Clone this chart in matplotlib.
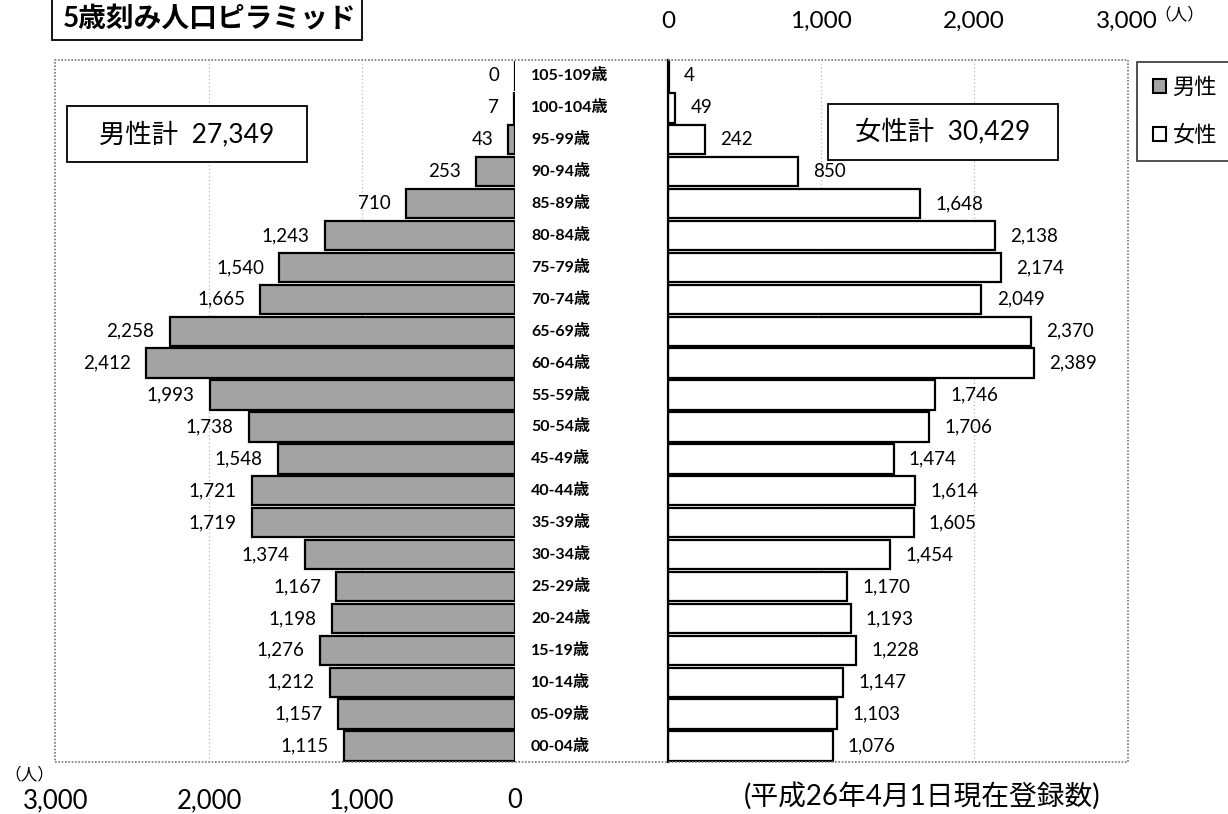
import matplotlib
matplotlib.use("Agg")
import matplotlib.pyplot as plt
from matplotlib.patches import Rectangle, Patch
from matplotlib.ticker import FuncFormatter, FixedLocator
import matplotlib.transforms as mtransforms
import numpy as np

plt.rcParams['font.family'] = ['Lato', 'Noto Sans CJK JP', 'DejaVu Sans']

# Age groups from youngest (bottom) to oldest (top)
age_groups = ["00-04歳", "05-09歳", "10-14歳", "15-19歳", "20-24歳", "25-29歳",
              "30-34歳", "35-39歳", "40-44歳", "45-49歳", "50-54歳", "55-59歳",
              "60-64歳", "65-69歳", "70-74歳", "75-79歳", "80-84歳", "85-89歳",
              "90-94歳", "95-99歳", "100-104歳", "105-109歳"]
male = [1115, 1157, 1212, 1276, 1198, 1167, 1374, 1719, 1721, 1548, 1738, 1993,
        2412, 2258, 1665, 1540, 1243, 710, 253, 43, 7, 0]
female = [1076, 1103, 1147, 1228, 1193, 1170, 1454, 1605, 1614, 1474, 1706, 1746,
          2389, 2370, 2049, 2174, 2138, 1648, 850, 242, 49, 4]
male_total = 27349
female_total = 30429
ticks = [0, 1000, 2000, 3000]

W, H = 1228, 814
fig = plt.figure(figsize=(W / 100, H / 100), dpi=100)


def fx(px):
    return px / W


def fy(py):
    return 1 - py / H


def box(x0, y0, x1, y1, lw=1.3):
    fig.patches.append(Rectangle((fx(x0), fy(y1)), fx(x1 - x0), (y1 - y0) / H,
                                 transform=fig.transFigure, fill=True, facecolor='white',
                                 edgecolor='black', linewidth=lw, zorder=3))


top_px, bot_px = 60, 762
ax_l = fig.add_axes([fx(56), fy(bot_px), fx(515 - 56), (bot_px - top_px) / H])
ax_r = fig.add_axes([fx(668), fy(bot_px), fx(1127 - 668), (bot_px - top_px) / H])

# Outer dotted frame around both halves
fig.patches.append(Rectangle((fx(55), fy(bot_px)), fx(1128 - 55), (bot_px - top_px) / H,
                             transform=fig.transFigure, fill=False,
                             edgecolor='#777777', linestyle=(0, (1, 1)), linewidth=1.2,
                             zorder=0))

y = np.arange(len(age_groups))
male_color = '#a3a3a3'
thousands = FuncFormatter(lambda v, p: f"{int(v):,}")

for ax in (ax_l, ax_r):
    ax.set_facecolor('none')
    ax.set_ylim(-0.5, len(age_groups) - 0.5)
    ax.set_xlim(0, 3000)
    ax.set_yticks([])
    for s in ax.spines.values():
        s.set_visible(False)
    ax.xaxis.set_major_locator(FixedLocator(ticks))
    ax.xaxis.set_major_formatter(thousands)
    for g in (1000, 2000):
        ax.axvline(g, color='#bbbbbb', linestyle=(0, (1, 2)), linewidth=0.9, zorder=0)

ax_l.invert_xaxis()

ax_l.barh(y, male, height=0.92, color=male_color, edgecolor='black', linewidth=1.6, zorder=2)
ax_r.barh(y, female, height=0.92, color='white', edgecolor='black', linewidth=1.6, zorder=2)

ax_r.spines['left'].set_visible(True)
ax_r.spines['left'].set_linewidth(1.6)
ax_r.spines['left'].set_color('black')

# Value labels
off_l = mtransforms.offset_copy(ax_l.transData, fig=fig, x=-11, y=0, units='points')
off_r = mtransforms.offset_copy(ax_r.transData, fig=fig, x=11, y=0, units='points')
for yi, m, f in zip(y, male, female):
    ax_l.text(m, yi, f"{m:,}", transform=off_l, ha='right', va='center', fontsize=13.5)
    ax_r.text(f, yi, f"{f:,}", transform=off_r, ha='left', va='center', fontsize=13.5)

# Age group labels in the centre column
lab_tr = mtransforms.blended_transform_factory(fig.transFigure, ax_l.transData)
for yi, a in zip(y, age_groups):
    fig.text(fx(531), yi, a, transform=lab_tr, ha='left', va='center',
             fontsize=11.5, fontweight='bold')

# Axis tick labels: male on bottom, female on top
ax_l.tick_params(axis='x', length=0, pad=19, labelsize=18.5)
ax_r.xaxis.set_ticks_position('top')
ax_r.tick_params(axis='x', length=0, pad=20, labelsize=17.5, top=True, bottom=False,
                 labeltop=True, labelbottom=False)

fig.text(fx(4), fy(774), "（人）", ha='left', va='center', fontsize=12)
fig.text(fx(1154), fy(14), "（人）", ha='left', va='center', fontsize=12)

# Title
box(52, -5, 362, 40)
fig.text(fx(210), fy(19), "5歳刻み人口ピラミッド", ha='center', va='center',
         fontsize=20, fontweight='bold', zorder=4)

# Totals
box(67, 106, 307, 162)
fig.text(fx(187), fy(134), f"男性計  {male_total:,}", ha='center', va='center',
         fontsize=19, zorder=4)
box(828, 104, 1058, 160)
fig.text(fx(943), fy(132), f"女性計  {female_total:,}", ha='center', va='center',
         fontsize=19, zorder=4)

# Legend
handles = [Patch(facecolor=male_color, edgecolor='black', linewidth=1.5, label='男性'),
           Patch(facecolor='white', edgecolor='black', linewidth=1.5, label='女性')]
leg = fig.legend(handles=handles, loc='upper left', bbox_to_anchor=(fx(1137), fy(62)),
                 frameon=True, fancybox=False, edgecolor='black', fontsize=16,
                 handlelength=0.6, handleheight=0.6, handletextpad=0.3,
                 labelspacing=1.2, borderpad=0.7, borderaxespad=0)
leg.get_frame().set_linewidth(1.2)

# Footnote
fig.text(fx(922), fy(796), "(平成26年4月1日現在登録数)", ha='center', va='center',
         fontsize=20)

fig.savefig("out.png", dpi=100)
